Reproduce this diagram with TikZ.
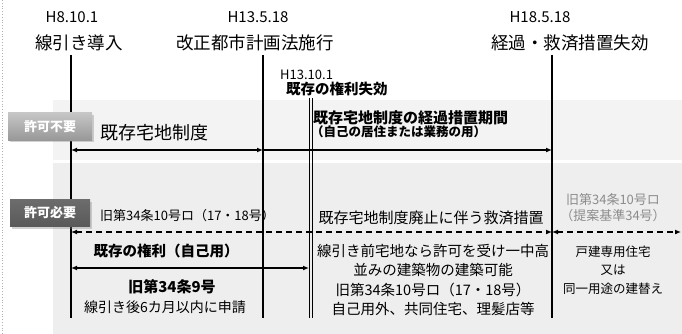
\documentclass[tikz,border=0pt]{standalone}
\usepackage{fontspec}
\newfontfamily\jp{Noto Sans CJK JP}
\usetikzlibrary{arrows.meta,shadows}
\newcommand\fsz[1]{\fontsize{#1}{#1}\selectfont}
\definecolor{bandA}{HTML}{F3F3F3}
\definecolor{bandB}{HTML}{EEEEEE}
\definecolor{soft}{HTML}{8C8C8C}
\tikzset{
  txt/.style={inner sep=0pt, font=\jp\fsz{#1}},
  btxt/.style={inner sep=0pt, font=\jp\bfseries\fsz{#1}},
  vline/.style={line width=1.2pt},
  arr/.style={line width=1.2pt, {Latex[length=6pt,width=5pt]}-{Latex[length=6pt,width=5pt]}},
  rarr/.style={line width=1.2pt, -{Latex[length=6pt,width=5pt]}},
  darr/.style={line width=1.2pt, dash pattern=on 6pt off 4pt, {Latex[length=6pt,width=5pt]}-{Latex[length=6pt,width=5pt]}},
  tag/.style={inner sep=0pt, minimum width=84pt, minimum height=27pt, text=white,
    font=\jp\bfseries\fsz{13}, drop shadow={shadow xshift=2pt, shadow yshift=-2pt, opacity=0.35}},
}
\begin{document}
\begin{tikzpicture}[x=1pt,y=-1pt]
\useasboundingbox (0,0) rectangle (682,334);
\fill[white] (0,0) rectangle (682,334);
\draw[gray!60, dotted, line width=0.8pt] (2,0) -- (2,334);
% bands
\fill[bandA] (53,100) rectangle (682,160);
\fill[bandB] (53,163) rectangle (682,334);
% dates
\node[txt=15] (d1) at (72,17) {H8.10.1};
\node[txt=17.5] (e1) at (79,43) {線引き導入};
\node[txt=15] (d2) at (258,17) {H13.5.18};
\node[txt=17.5] (e2) at (255,43) {改正都市計画法施行};
\node[txt=15] (d3) at (540,17) {H18.5.18};
\node[txt=17.5] (e3) at (570,43) {経過・救済措置失効};
\node[txt=13, anchor=west] (d4) at (280,75) {H13.10.1};
\node[btxt=14.5, anchor=west] (e4) at (286,89) {既存の権利失効};
% vertical lines
\coordinate (v1t) at (71,55); \coordinate (v1b) at (71,318);
\coordinate (v2t) at (263,55); \coordinate (v2b) at (263,318);
\coordinate (v3t) at (552,55); \coordinate (v3b) at (552,318);
\coordinate (v4t) at (309.5,98); \coordinate (v4b) at (309.5,318);
\coordinate (v5t) at (312,98); \coordinate (v5b) at (312,318);
\draw[vline] (v1t) -- (v1b);
\draw[vline] (v2t) -- (v2b);
\draw[vline] (v3t) -- (v3b);
\draw[line width=0.9pt] (v4t) -- (v4b);
\draw[line width=0.9pt] (v5t) -- (v5b);
% tags
\node[tag, top color=gray!45, bottom color=gray!85!black!70] (t1) at (50,126.5) {許可不要};
\node[tag, top color=gray!85!black, bottom color=black!65, minimum width=80pt] (t2) at (50,213) {許可必要};
% upper band
\node[txt=18, anchor=west] (s1) at (100,133) {既存宅地制度};
\node[btxt=15, anchor=west] (s2) at (313,118) {既存宅地制度の経過措置期間};
\node[btxt=12.5, anchor=west] (s3) at (311,132) {（自己の居住または業務の用）};
\coordinate (a1l) at (71,150); \coordinate (a1m) at (263,150); \coordinate (a1r) at (552,150);
\draw[arr] (a1l) -- (a1m);
\draw[rarr] (a1m) -- (a1r);
% lower band
\node[txt=13, anchor=west] (l1) at (100,216) {旧第34条10号ロ（17・18号）};
\node[txt=15] (l2) at (431,218) {既存宅地制度廃止に伴う救済措置};
\node[txt=13, text=soft] (l3) at (613,200) {旧第34条10号ロ};
\node[txt=13, text=soft] (l4) at (613,216) {（提案基準34号）};
\coordinate (b1l) at (71,232); \coordinate (b1m) at (552,232); \coordinate (b1r) at (681,232);
\draw[darr] (b1l) -- (b1m);
\draw[darr] (b1m) -- (b1r);
\node[btxt=14.5] (k1) at (166,251) {既存の権利（自己用）};
\coordinate (c1l) at (71,268); \coordinate (c1r) at (309,268);
\draw[arr] (c1l) -- (c1r);
\node[btxt=15] (k2) at (172,287) {旧第34条9号};
\node[txt=14] (k3) at (165,307) {線引き後6カ月以内に申請};
\node[txt=14.5] (m1) at (433,251) {線引き前宅地なら許可を受け一中高};
\node[txt=14.5] (m2) at (433,270) {並みの建築物の建築可能};
\node[txt=14.5] (m3) at (433,290) {旧第34条10号ロ（17・18号）};
\node[txt=14.5] (m4) at (433,309) {自己用外、共同住宅、理髪店等};
\node[txt=12.5] (r1) at (613,252) {戸建専用住宅};
\node[txt=12.5] (r2) at (613,270) {又は};
\node[txt=12.5] (r3) at (613,289) {同一用途の建替え};
\end{tikzpicture}
\end{document}
